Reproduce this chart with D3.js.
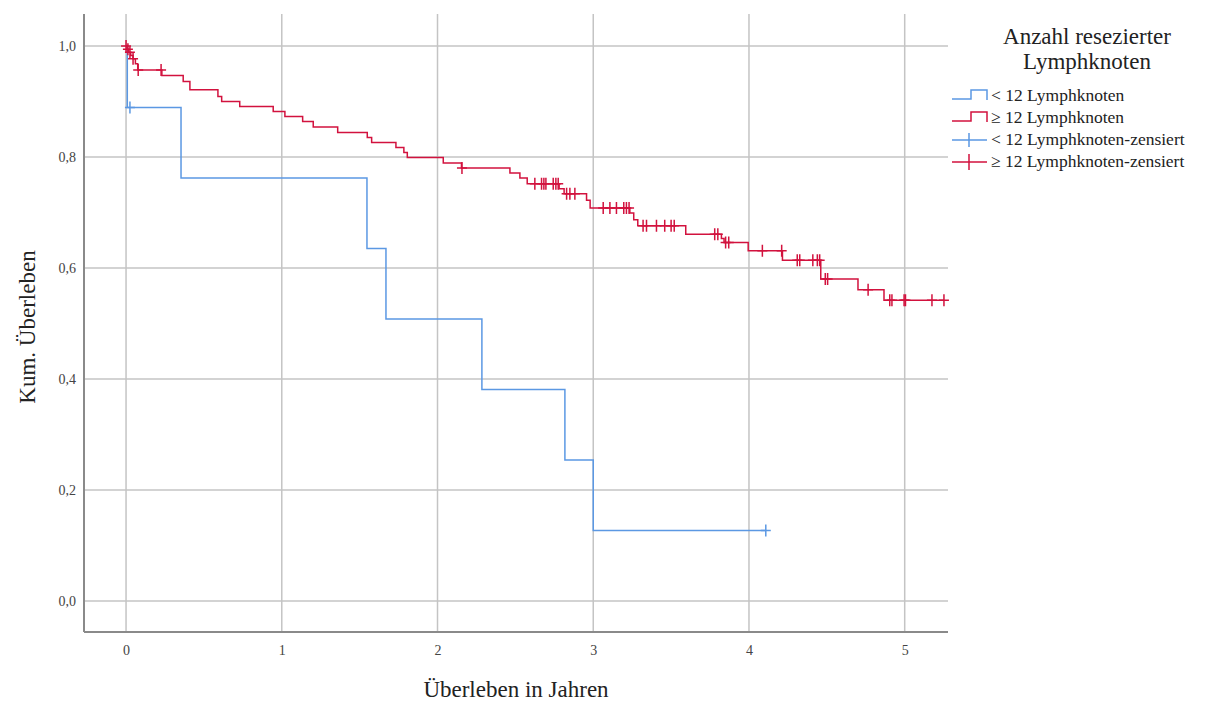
<!DOCTYPE html>
<html>
<head>
<meta charset="utf-8">
<script src="https://cdn.jsdelivr.net/npm/d3@7"></script>
<style>
  body { margin: 0; background: #fff; }
  text { font-family: "Liberation Serif", "Times New Roman", serif; }
</style>
</head>
<body>
<div class="chart"></div>
<script>
var svgWidth = 1232;
var svgHeight = 702;

// Kaplan-Meier steps: event time (years) and survival after the step
var blueTimes = [0.008, 0.353, 1.547, 1.669, 2.285, 2.818, 3.0];
var blueSurv = [0.889, 0.762, 0.635, 0.508, 0.381, 0.254, 0.127];
var blueCensored = [0.025, 4.108];

var redTimes = [0.006, 0.016, 0.03, 0.045, 0.06, 0.075, 0.23, 0.367, 0.41, 0.59, 0.614, 0.73,
  0.945, 1.02, 1.134, 1.202, 1.359, 1.549, 1.577, 1.733, 1.784, 1.806, 2.037, 2.154,
  2.465, 2.529, 2.576, 2.781, 2.813, 2.957, 2.98, 3.235, 3.26, 3.286, 3.594, 3.823,
  3.84, 3.995, 4.215, 4.461, 4.70, 4.867];
var redSurv = [0.994, 0.989, 0.983, 0.977, 0.968, 0.957, 0.947, 0.936, 0.921, 0.909, 0.900, 0.891,
  0.882, 0.873, 0.864, 0.854, 0.844, 0.835, 0.826, 0.817, 0.808, 0.799, 0.789, 0.780,
  0.771, 0.762, 0.752, 0.743, 0.734, 0.722, 0.708, 0.699, 0.687, 0.676, 0.661, 0.653,
  0.646, 0.631, 0.614, 0.580, 0.561, 0.542];
var redCensored = [0.0, 0.012, 0.025, 0.045, 0.078, 0.225, 2.157, 2.625, 2.668, 2.683, 2.696,
  2.743, 2.760, 2.775, 2.829, 2.850, 2.882, 3.064, 3.107, 3.149, 3.196, 3.213, 3.230,
  3.32, 3.342, 3.406, 3.459, 3.50, 3.52, 3.78, 3.80, 3.85, 3.87, 4.086, 4.21, 4.31,
  4.326, 4.41, 4.439, 4.454, 4.49, 4.505, 4.765, 4.904, 4.918, 4.996, 5.005, 5.175, 5.252];

var xTicks = [0, 1, 2, 3, 4, 5];
var yTicks = [0, 0.2, 0.4, 0.6, 0.8, 1.0];

var groups = ["< 12 Lymphknoten", "\u2265 12 Lymphknoten",
  "< 12 Lymphknoten-zensiert", "\u2265 12 Lymphknoten-zensiert"];
var blue = "#5b98e3";
var red = "#d2123e";

var svg = d3.select(".chart")
  .append("svg")
  .attr("width", svgWidth)
  .attr("height", svgHeight);

svg.append("rect").attr("width", svgWidth).attr("height", svgHeight).attr("fill", "#fff");

var plotLeft = 84, plotRight = 948, plotTop = 14, plotBottom = 632;

var x = d3.scaleLinear().domain([-0.27, 5.278]).range([plotLeft, plotRight]);
var y = d3.scaleLinear().domain([-0.0559, 1.0577]).range([plotBottom, plotTop]);

// gridlines
svg.append("g").selectAll("line")
  .data(yTicks)
  .enter()
  .append("line")
  .attr("x1", plotLeft)
  .attr("x2", plotRight)
  .attr("y1", d => y(d))
  .attr("y2", d => y(d))
  .attr("stroke", "#c4c4c4")
  .attr("stroke-width", 1.5);

svg.append("g").selectAll("line")
  .data(xTicks)
  .enter()
  .append("line")
  .attr("x1", d => x(d))
  .attr("x2", d => x(d))
  .attr("y1", plotTop)
  .attr("y2", plotBottom)
  .attr("stroke", "#c4c4c4")
  .attr("stroke-width", 1.5);

// axes
var yAxis = d3.axisLeft(y).tickValues(yTicks).tickSize(0).tickPadding(8)
  .tickFormat(d => d3.format(".1f")(d).replace(".", ","));
var xAxis = d3.axisBottom(x).tickValues(xTicks).tickSize(0).tickPadding(13)
  .tickFormat(d3.format("d"));

var gy = svg.append("g").attr("transform", `translate(${plotLeft},0)`).call(yAxis);
var gx = svg.append("g").attr("transform", `translate(0,${plotBottom})`).call(xAxis);

gy.select(".domain").attr("d", `M0,${plotTop}V${plotBottom}`);
gx.select(".domain").attr("d", `M${plotLeft},0H${plotRight}`);
[gx, gy].forEach(function(g) {
  g.select(".domain").attr("stroke", "#8a8a8a").attr("stroke-width", 2);
  g.selectAll(".tick text")
    .attr("fill", "#444")
    .style("font-size", "14px")
    .style("font-family", "Liberation Serif, serif");
});

// step curves
var stepLine = d3.line()
  .x(d => x(d[0]))
  .y(d => y(d[1]))
  .curve(d3.curveStepAfter);

function curvePoints(times, surv, tEnd) {
  var pts = [[0, 1]];
  times.forEach(function(t, i) { pts.push([t, surv[i]]); });
  pts.push([tEnd, surv[surv.length - 1]]);
  return pts;
}

function survAt(times, surv, t) {
  var s = 1;
  times.forEach(function(tt, i) { if (tt <= t) s = surv[i]; });
  return s;
}

svg.append("path")
  .attr("d", stepLine(curvePoints(blueTimes, blueSurv, d3.max(blueCensored))))
  .attr("fill", "none")
  .attr("stroke", blue)
  .attr("stroke-width", 1.5);

svg.append("path")
  .attr("d", stepLine(curvePoints(redTimes, redSurv, d3.max(redCensored))))
  .attr("fill", "none")
  .attr("stroke", red)
  .attr("stroke-width", 1.5);

// censor marks
function crosses(times, surv, cens, color, h) {
  svg.append("g").selectAll("path")
    .data(cens)
    .enter()
    .append("path")
    .attr("d", function(t) {
      var cx = x(t), cy = y(survAt(times, surv, t));
      return `M${cx - 5},${cy}H${cx + 5}M${cx},${cy - h}V${cy + h}`;
    })
    .attr("fill", "none")
    .attr("stroke", color)
    .attr("stroke-width", 1.5);
}
crosses(blueTimes, blueSurv, blueCensored, blue, 6);
crosses(redTimes, redSurv, redCensored, red, 6);

// axis titles
svg.append("text")
  .attr("x", 516)
  .attr("y", 697)
  .attr("text-anchor", "middle")
  .style("font-size", "23px")
  .attr("fill", "#222")
  .text("\u00dcberleben in Jahren");

svg.append("text")
  .attr("transform", "translate(35, 327) rotate(-90)")
  .attr("text-anchor", "middle")
  .style("font-size", "23px")
  .attr("fill", "#222")
  .text("Kum. \u00dcberleben");

// legend
var legend = svg.append("g");
legend.append("text")
  .attr("x", 1087).attr("y", 44)
  .attr("text-anchor", "middle")
  .style("font-size", "23px")
  .attr("fill", "#222")
  .text("Anzahl resezierter");
legend.append("text")
  .attr("x", 1087).attr("y", 69)
  .attr("text-anchor", "middle")
  .style("font-size", "23px")
  .attr("fill", "#222")
  .text("Lymphknoten");

var rowY = [96, 118, 140, 162];
var colors = [blue, red, blue, red];
groups.forEach(function(g, i) {
  var yy = rowY[i];
  if (i < 2) {
    legend.append("path")
      .attr("d", `M952,${yy + 3}H971V${yy - 6}H987V${yy + 4}`)
      .attr("fill", "none").attr("stroke", colors[i]).attr("stroke-width", 1.5);
  } else {
    var hh = i === 2 ? 7 : 8;
    legend.append("path")
      .attr("d", `M952,${yy}H987M969,${yy - hh}V${yy + hh}`)
      .attr("fill", "none").attr("stroke", colors[i]).attr("stroke-width", 1.5);
  }
  legend.append("text")
    .attr("x", 991).attr("y", yy + 5)
    .style("font-size", "17.5px")
    .attr("fill", "#222")
    .text(g);
});
</script>
</body>
</html>
